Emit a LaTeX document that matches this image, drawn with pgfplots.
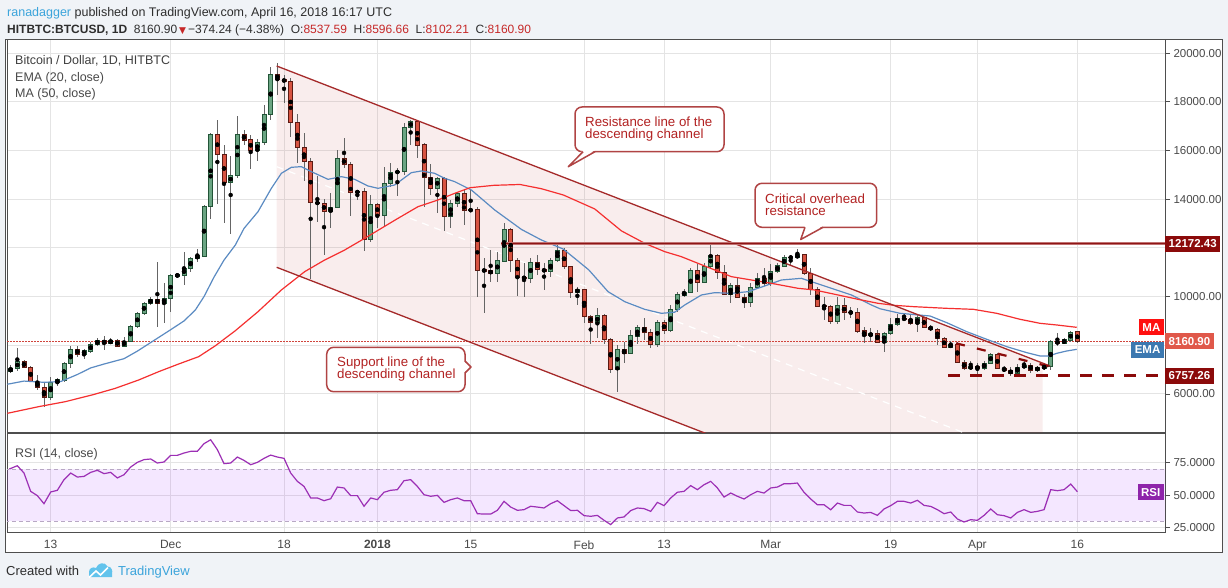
\documentclass[border=0pt]{standalone}
\usepackage{pgfplots}
\pgfplotsset{compat=1.18}
\usepackage{pgfplotstable}
\usepackage{fontspec}
\setmainfont{Liberation Sans}
\newfontfamily\symfont{DejaVu Sans}

\definecolor{pagebg}{HTML}{F0F3F7}
\definecolor{gridc}{HTML}{E4E4E4}
\definecolor{framec}{HTML}{4E4E4E}
\definecolor{txtc}{HTML}{4A4A4A}
\definecolor{hdtxt}{HTML}{2E2E2E}
\definecolor{tvblue}{HTML}{3BA4DB}
\definecolor{logoc}{HTML}{62C3EC}
\definecolor{valred}{HTML}{C62828}
\definecolor{upfill}{HTML}{6BA583}
\definecolor{upline}{HTML}{225437}
\definecolor{dnfill}{HTML}{D75442}
\definecolor{dnline}{HTML}{5B1A13}
\definecolor{wickc}{HTML}{656565}
\definecolor{emac}{HTML}{5B8BC2}
\definecolor{mac}{HTML}{F52F2F}
\definecolor{chan}{HTML}{A52A2A}
\definecolor{chanfill}{HTML}{C04040}
\definecolor{resc}{HTML}{8E1515}
\definecolor{resedge}{HTML}{C07070}
\definecolor{pricec}{HTML}{D0453C}
\definecolor{boxdark}{HTML}{8B0A0A}
\definecolor{boxprice}{HTML}{E0584A}
\definecolor{boxema}{HTML}{3C78B0}
\definecolor{boxma}{HTML}{FF1010}
\definecolor{rsic}{HTML}{9C2FB5}
\definecolor{rsiband}{HTML}{9915FF}
\definecolor{rsidash}{HTML}{B8A8C4}
\definecolor{boxrsi}{HTML}{8E24AA}
\definecolor{callb}{HTML}{B04444}
\definecolor{calltxt}{HTML}{B22222}

% daily candles, day 0 = 13 Nov 2017
\pgfplotstableread{
d o h l c
-6 6917 7191 6850 7054
-5 7054 7876 6958 7328
0 5863 6712 5754 6465
1 6465 6643 6328 6575
2 6575 7328 6507 7260
3 7260 7971 7054 7834
5 7643 7834 7424 7766
6 7766 8149 7670 8040
7 8040 8286 7971 8190
9 8081 8286 8040 8190
11 7971 8327 7917 8149
12 8149 8834 8149 8765
13 8765 9381 8724 9313
14 9313 9792 9245 9724
15 9724 9970 9655 9888
17 9724 10572 8902 9929
18 9929 10928 9381 10846
19 10846 10928 10819 10887
20 10887 11845 10477 11161
21 11161 11640 11024 11572
22 11572 11941 11435 11668
23 11668 13762 11640 13694
24 13694 16706 13173 16637
27 14679 15775 12571 14967
28 14967 17417 14857 16665
31 15994 16473 15583 16322
32 16322 17869 16227 17486
33 17486 19416 17253 19129
42 13488 14241 12804 13666
43 13666 16021 13625 15665
46 14269 14378 13968 14324
48 12352 14173 12256 13790
50 13352 15337 12913 14652
51 14652 15473 14515 15104
52 15104 15268 14132 15131
53 15131 17116 14994 16952
54 16952 17253 16227 17185
58 14447 14926 13420 14857
60 13310 13968 12804 13831
61 13831 14310 13666 14214
63 13530 14378 13489 13571
67 10956 11846 10613 11462
68 11462 13037 11435 12735
72 10750 11572 10545 11407
75 11038 11572 10819 11476
76 11476 12160 11435 11873
79 10175 10408 9655 10298
82 8943 9518 8286 9203
85 7013 8012 6096 7835
87 7670 8628 7643 8382
88 8382 8834 8053 8724
91 8053 9039 7944 8930
93 8601 9655 8560 9477
94 9477 10203 9381 10066
95 10066 10299 9997 10175
96 10175 11161 10134 11065
98 10586 11367 10545 11230
99 11230 12160 11161 11681
102 10093 10545 9751 10449
105 9751 10545 9587 10381
106 10381 10956 10340 10723
108 10545 11339 10450 11024
109 11024 11367 10983 11257
110 11257 11709 11230 11613
112 11600 11941 11572 11709
118 8998 9997 8875 9614
123 8395 8697 8149 8492
125 8122 8560 7739 8492
126 8492 9108 8423 8861
127 8861 9286 8793 9108
130 8902 9286 8560 9135
135 7917 8190 7875 8040
138 7040 7369 7027 7136
140 7040 7369 6986 7260
141 7260 7698 7232 7629
145 6849 7232 6821 7095
146 7095 7369 7054 7177
148 6986 7150 6917 7068
149 7068 7232 6986 7123
150 7123 8218 6986 8149
152 8081 8286 8053 8218
153 8218 8601 8149 8533
}\upc

\pgfplotstableread{
d o h l c
-4 7328 7396 7054 7095
-3 7095 7164 6480 6507
-2 6507 6780 6164 6260
-1 6260 6507 5452 5863
4 7834 7971 7506 7643
8 8190 8382 7807 8081
10 8190 8245 7917 7971
16 9888 11435 8765 9724
25 16637 17253 13803 15843
26 15843 16227 13036 14679
29 16665 16842 16227 16432
30 16432 16637 15241 15994
34 19129 19580 18280 18923
35 18923 19101 17965 18828
36 18828 18964 16541 17157
37 17157 17500 15474 16117
38 16117 16706 14761 15542
39 15542 15679 10709 13858
40 13858 14953 13050 13830
41 13830 13995 11709 13488
44 15665 16500 15300 15433
45 15433 15515 13324 14269
47 14324 14450 11887 12352
49 13790 13831 12804 13352
55 17185 17253 15679 16227
56 16227 16295 13694 14899
57 14899 15446 14173 14447
59 14857 14926 12708 13310
62 14214 14378 12941 13530
64 13571 13666 9970 11093
65 11093 11572 9313 11052
66 11052 11914 10613 10956
69 12735 12804 11024 11476
70 11476 11572 10025 10792
71 10792 11394 9970 10750
73 11407 11709 10900 11120
74 11120 11367 10271 11038
77 11873 11983 11120 11230
78 11230 11257 9929 10175
80 10298 10312 8930 9176
81 9176 9244 8053 8943
83 9203 9286 8040 8245
84 8245 8300 6876 7013
86 7835 8149 7287 7670
89 8724 9108 8218 8533
90 8533 8656 7875 8053
92 8930 9039 8464 8601
97 11065 11339 10203 10586
100 11681 11750 10709 10997
101 10997 11298 10066 10093
103 10449 10750 9929 9970
104 9970 10107 9518 9751
107 10723 11161 10436 10545
111 11613 11709 11257 11600
113 11709 11740 10887 10956
114 10956 11161 10066 10299
115 10299 10408 9587 9614
116 9614 9997 9039 9587
117 9587 9655 8875 8998
119 9614 9929 9039 9354
120 9354 9587 9108 9340
121 9340 9518 8492 8587
122 8587 8765 8081 8395
124 8492 8628 8081 8122
128 9108 9340 9012 9067
129 9067 9245 8834 8902
131 9135 9176 8697 8738
132 8738 8834 8601 8656
133 8656 8697 8012 8286
134 8286 8327 7875 7917
136 8040 8149 7260 7300
137 7300 7396 6986 7040
139 7136 7287 6780 7040
142 7629 7670 7013 7040
143 7040 7150 6917 6958
144 6958 7095 6739 6849
147 7177 7287 6876 6986
151 8149 8492 7971 8081
154 8537.59 8596.66 8102.21 8160.90
}\dnc

\pgfplotsset{
  tvaxis/.style={
    scale only axis, width=1158pt,
    xmin=-6.55, xmax=167.14,
    axis line style={framec, line width=1pt},
    xmajorgrids, ymajorgrids,
    major grid style={gridc, line width=1pt},
    xtick={0,18,35,49,63,80,92,108,126,139,154},
    xtick style={draw=none},
    ytick pos=right, yticklabel pos=right,
    tick align=outside, major tick length=5pt,
    ytick style={framec, line width=0.8pt},
    tick label style={font=\fontsize{11.5}{13}\selectfont, text=txtc},
    scaled y ticks=false,
    /pgf/number format/assume math mode=true,
  },
  wick/.style={only marks, mark=none, forget plot,
    error bars/y dir=both, error bars/y explicit, error bars/error mark=none,
    error bars/error bar style={line width=1pt, wickc}},
  body/.style 2 args={only marks, mark=none, forget plot,
    error bars/y dir=both, error bars/y explicit, error bars/error mark=none,
    error bars/error bar style={line width=#1, #2}},
}

\begin{document}
\begin{tikzpicture}[x=1pt,y=-1pt]
\path[use as bounding box, fill=pagebg] (0,0) rectangle (1228,588);
\fill[white] (5,40) rectangle (1222,552);

% ---------- price panel ----------
\begin{axis}[tvaxis, at={(7pt,-40pt)}, anchor=north west, height=392pt,
  ymin=4439, ymax=20538, ytick={6000,8000,...,20000}, xticklabels={},
  yticklabels={6000.00,{},10000.00,{},14000.00,16000.00,18000.00,20000.00}]
% descending channel area
\addplot[draw=none, fill=chanfill, fill opacity=0.09, forget plot]
  coordinates {(33.9,19470) (148.8,7290) (148.8,3000) (111.3,3000) (33.9,11203)};
\addplot[white, line width=1.2pt, dash pattern=on 7pt off 6pt, forget plot]
  coordinates {(33.9,15336) (137.5,4354)};
% last price line
\addplot[pricec, line width=0.8pt, dash pattern=on 1.5pt off 1.5pt, forget plot]
  coordinates {(-7,8160.9) (168,8160.9)};
% candles
\addplot[wick] table[x=d, y expr={(\thisrow{h}+\thisrow{l})/2}, y error expr={(\thisrow{h}-\thisrow{l})/2}] {\upc};
\addplot[wick] table[x=d, y expr={(\thisrow{h}+\thisrow{l})/2}, y error expr={(\thisrow{h}-\thisrow{l})/2}] {\dnc};
\addplot[body={5pt}{upline}] table[x=d, y expr={(\thisrow{o}+\thisrow{c})/2}, y error expr={abs(\thisrow{c}-\thisrow{o})/2+30}] {\upc};
\addplot[body={3pt}{upfill}] table[x=d, y expr={(\thisrow{o}+\thisrow{c})/2}, y error expr={max(abs(\thisrow{c}-\thisrow{o})/2-12,1)}] {\upc};
\addplot[body={5pt}{dnline}] table[x=d, y expr={(\thisrow{o}+\thisrow{c})/2}, y error expr={abs(\thisrow{c}-\thisrow{o})/2+30}] {\dnc};
\addplot[body={3pt}{dnfill}] table[x=d, y expr={(\thisrow{o}+\thisrow{c})/2}, y error expr={max(abs(\thisrow{c}-\thisrow{o})/2-12,1)}] {\dnc};
% EMA 20
\addplot[emac, line width=1.2pt] coordinates {
(-6.5,6400) (-4,6530) (-1,6480) (1.5,6510) (4,6800) (6,7070) (8,7230) (11,7450)
(13,7760) (15.5,8200) (18,8640) (20,9000) (21.7,9450) (23,10000) (24.5,10800)
(26,11500) (27.7,12120) (29,12800) (31.1,13488) (33.1,14447) (34.6,15063)
(36.1,15309) (37.6,15337) (39.1,15131) (41.6,14816) (43.6,14926) (45.6,14816)
(47.6,14543) (49.1,14447) (51.6,14584) (54.1,15090) (55.6,15158) (57.6,15063)
(59.1,14857) (60.6,14720) (63.1,14378) (66.6,13557) (70.6,12760) (73.6,12325)
(76.9,11950) (80.7,11100) (83.6,10203) (86.1,9792) (89.1,9477) (91.6,9313)
(93.6,9360) (95.1,9655) (97.6,10066) (99.6,10162) (102.1,10134) (104.6,10203)
(107.1,10436) (109.6,10682) (112.6,10750) (114.1,10613) (117.1,10340)
(120.1,10066) (123.1,9655) (124.4,9500) (127.4,9313) (131.9,9203) (134.4,8930)
(137.4,8560) (140.4,8245) (143.4,7944) (146.4,7698) (148.4,7561) (149.7,7561)
(150.9,7670) (152.4,7766) (153.9,7834)};
% MA 50
\addplot[mac, line width=1.2pt] coordinates {
(-6.5,5206) (-1.8,5480) (2.2,5685) (6.2,5959) (9.7,6233) (13.2,6575) (16.2,6917)
(19.2,7232) (22.2,7533) (24.7,7980) (27.7,8600) (31.1,9381) (34.6,10271)
(38.1,11024) (41.1,11503) (44.1,11914) (47.1,12393) (49.6,12804) (52.1,13214)
(55.1,13694) (58.1,13968) (60.6,14241) (62.9,14472) (66.5,14570) (70.4,14604)
(73.6,14430) (76.9,14172) (81.6,13600) (85.6,12700) (89.1,12189) (92.1,11846)
(94.6,11640) (97.1,11366) (99.6,11093) (102.1,10819) (105.1,10682)
(108.1,10545) (112.1,10340) (114.6,10271) (118.1,10066) (121.1,9888)
(124.1,9724) (126.6,9640) (129.4,9587) (134.4,9518) (138.4,9477) (141.9,9313)
(145.4,9067) (148.4,8902) (150.9,8834) (153.9,8738)};
% drawings
\addplot[chan, line width=1.3pt, forget plot] coordinates {(33.9,19470) (149.9,7150)};
\addplot[chan, line width=1.3pt, forget plot] coordinates {(33.9,11203) (112,2925)};
\addplot[resedge, line width=3.2pt, forget plot] coordinates {(67.6,12172.43) (168,12172.43)};
\addplot[resc, line width=1.6pt, forget plot] coordinates {(67.6,12172.43) (168,12172.43)};
\addplot[boxdark, line width=2.4pt, dash pattern=on 12pt off 10pt, forget plot]
  coordinates {(134.6,6757.26) (166.2,6757.26)};
\addplot[boxdark, line width=2.2pt, dash pattern=on 9pt off 12.5pt, forget plot]
  coordinates {(135.8,8081) (149.9,7121)};
\end{axis}

% ---------- RSI panel ----------
\begin{axis}[tvaxis, at={(7pt,-433pt)}, anchor=north west, height=99pt,
  ymin=21.8, ymax=98, ytick={25,50,75},
  xticklabels={13,Dec,18,\textbf{2018},15,Feb,13,Mar,19,Apr,16},
  x tick label style={font=\fontsize{12}{13}\selectfont, text=txtc},
  yticklabel={\pgfmathprintnumber[fixed,fixed zerofill,precision=4]{\tick}}]
\addplot[draw=none, fill=rsiband, fill opacity=0.1, forget plot]
  coordinates {(-10,30) (170,30) (170,70) (-10,70)};
\addplot[rsidash, line width=1pt, dash pattern=on 4pt off 3pt, forget plot] coordinates {(-10,70) (170,70)};
\addplot[rsidash, line width=1pt, dash pattern=on 4pt off 3pt, forget plot] coordinates {(-10,30) (170,30)};
\addplot[rsic, line width=1.2pt] coordinates {
(-6.2,70.3) (-5,72.8) (-4,67.2) (-3,53.1) (-2,49.8) (-1,43.6) (0,52.6) (1,53.9)
(2,62.1) (3,67.2) (4,64.1) (5,64.6) (6,67.7) (7,69.3) (8,66.7) (9,67.7) (10,63.4)
(11,65.9) (12,71.8) (13,75.4) (14,77.5) (15,78.0) (16,74.9) (17,75.7) (18,80.8)
(19,80.8) (20,82.6) (21,83.9) (22,83.9) (23,89.8) (24,92.8) (25,85.2) (26,74.4)
(27,74.9) (28,79.5) (29,76.9) (30,73.6) (31,75.4) (32,78.5) (33,81.0) (34,79.5)
(35,78.5) (36,67.2) (37,60.8) (38,56.9) (39,48.0) (40,48.0) (41,45.9) (42,47.4)
(43,56.4) (44,55.7) (45,49.8) (46,49.8) (47,41.6) (48,48.0) (49,46.7) (50,52.4)
(51,53.9) (52,54.4) (53,61.3) (54,62.1) (55,56.9) (56,50.5) (57,49.3) (58,50.0)
(59,44.6) (60,46.7) (61,48.0) (62,45.9) (63,45.9) (64,35.9) (65,35.6) (66,35.6)
(67,38.5) (68,45.4) (69,41.0) (70,38.5) (71,39.0) (72,41.6) (73,41.0) (74,40.3)
(75,43.6) (76,45.9) (77,42.1) (78,38.3) (79,38.5) (80,34.4) (81,33.9) (82,34.6)
(83,30.8) (84,27.5) (85,32.6) (86,33.4) (87,38.3) (88,40.3) (89,39.8) (90,37.7)
(91,44.6) (92,42.1) (93,48.0) (94,52.4) (95,53.1) (96,57.5) (97,54.4) (98,58.2)
(99,60.8) (100,55.7) (101,48.7) (102,51.8) (103,49.3) (104,47.2) (105,50.5)
(106,53.1) (107,51.8) (108,55.7) (109,56.4) (110,59.0) (111,59.0) (112,59.5)
(113,52.3) (114,47.2) (115,42.8) (116,42.8) (117,38.9) (118,44.1) (119,42.3)
(120,42.3) (121,37.2) (122,36.4) (123,36.9) (124,34.6) (125,39.5) (126,42.1)
(127,45.4) (128,45.4) (129,44.1) (130,46.2) (131,42.3) (132,41.5) (133,39.0)
(134,35.9) (135,37.2) (136,31.8) (137,29.5) (138,31.3) (139,30.8) (140,34.6)
(141,39.5) (142,35.1) (143,34.4) (144,32.6) (145,36.9) (146,39.0) (147,36.9)
(148,37.7) (149,39.0) (150,54.4) (151,53.6) (152,54.4) (153,58.7) (154,52.8)};
\end{axis}

\draw[framec, line width=1pt] (5,40) rectangle (1222,552);

% legends inside panes
\begin{scope}[every node/.style={anchor=base west, inner sep=0pt, font=\fontsize{12.5}{14}\selectfont}]
\node[text=black!75] at (15,65) {Bitcoin / Dollar, 1D, HITBTC};
\node[text=txtc] at (15,81.5) {EMA (20, close)};
\node[text=txtc] at (15,98) {MA (50, close)};
\node[text=txtc] at (15,457) {RSI (14, close)};
\end{scope}

% value boxes on the price scale
\begin{scope}[every node/.style={text=white, font=\bfseries\fontsize{11.5}{12}\selectfont,
    inner xsep=3.5pt, inner ysep=0pt, minimum height=16pt}]
\node[fill=boxdark, anchor=west] at (1165,243.7) {12172.43};
\node[fill=boxprice, anchor=west] at (1165,341.4) {8160.90};
\node[fill=boxdark, anchor=west] at (1165,375.6) {6757.26};
\node[fill=boxma, anchor=east] at (1164,327.3) {MA};
\node[fill=boxema, anchor=east] at (1164,349.6) {EMA};
\node[fill=boxrsi, anchor=east] at (1164,492.1) {RSI};
\end{scope}

% callouts
\draw[callb, line width=1.5pt, fill=white, rounded corners=7pt] (575,107) rectangle (724,151.7);
\fill[white] (583,150.2) -- (568.3,166.7) -- (595,150.2) -- cycle;
\draw[callb, line width=1.5pt, line join=round] (583,151.7) -- (568.3,166.7) -- (595,151.7);
\draw[callb, line width=1.5pt, fill=white, rounded corners=7pt] (755,183.3) rectangle (876.7,227.3);
\fill[white] (805,225.8) -- (800.7,239.5) -- (823,225.8) -- cycle;
\draw[callb, line width=1.5pt, line join=round] (805,227.3) -- (800.7,239.5) -- (823,227.3);
\draw[callb, line width=1.5pt, fill=white, rounded corners=7pt] (326.7,347.3) rectangle (465,391.7);
\fill[white] (463.5,361) -- (471,367) -- (463.5,373) -- cycle;
\draw[callb, line width=1.5pt, line join=round] (465,361) -- (471,367) -- (465,373);
\begin{scope}[every node/.style={anchor=base west, inner sep=0pt, text=calltxt, font=\fontsize{13.3}{14}\selectfont}]
\node at (585,126.5) {Resistance line of the};
\node at (585,138.5) {descending channel};
\node at (765,204) {Critical overhead};
\node at (765,215.5) {resistance};
\node at (337,366.7) {Support line of the};
\node at (337,378.5) {descending channel};
\end{scope}

% header
\node[anchor=base west, inner sep=0pt, font=\fontsize{12.5}{14}\selectfont, text=hdtxt] at (7,16.7)
  {\textcolor{tvblue}{ranadagger} published on TradingView.com, April 16, 2018 16:17 UTC};
\node[anchor=base west, inner sep=0pt, font=\fontsize{12}{14}\selectfont, text=hdtxt] at (7,33.4)
  {\textbf{HITBTC:BTCUSD, 1D}\ \ 8160.90\,{\symfont\fontsize{9}{9}\selectfont\textcolor{valred}{▼}}\,−374.24 (−4.38\%)\ \ O:\textcolor{valred}{8537.59}\ \ H:\textcolor{valred}{8596.66}\ \ L:\textcolor{valred}{8102.21}\ \ C:\textcolor{valred}{8160.90}};

% footer
\node[anchor=base west, inner sep=0pt, font=\fontsize{13}{14}\selectfont, text=hdtxt] at (6,575) {Created with};
\fill[logoc] (89,577) -- (89,572) .. controls (89,568) and (93,566.5) .. (96,568)
  .. controls (97.5,563) and (105,561) .. (107.5,566.5)
  .. controls (111.5,566.5) and (113,570.5) .. (112,574) -- (112,577) -- cycle;
\draw[white, line width=1.6pt] (89,577.5) -- (96,571) -- (100.5,575) -- (108,567.5);
\node[anchor=base west, inner sep=0pt, font=\fontsize{13}{14}\selectfont, text=tvblue] at (118,575) {TradingView};
\end{tikzpicture}
\end{document}
